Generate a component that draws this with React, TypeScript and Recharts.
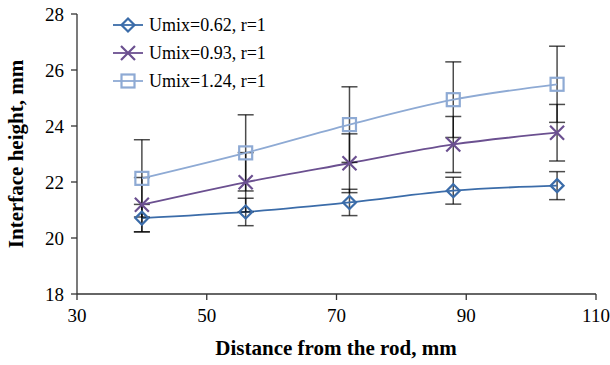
import React from 'react';
import { LineChart, Line, XAxis, YAxis, ErrorBar } from 'recharts';

const distance = [40, 56, 72, 88, 104];
const height062 = [20.71, 20.93, 21.27, 21.69, 21.87];
const height093 = [21.19, 21.99, 22.67, 23.34, 23.76];
const height124 = [22.13, 23.04, 24.05, 24.94, 25.49];
const err062 = [0.49, 0.49, 0.47, 0.48, 0.5];
const err093 = [0.97, 1.06, 1.05, 1.0, 1.01];
const err124 = [1.38, 1.36, 1.35, 1.35, 1.36];
const xTicks = [30, 50, 70, 90, 110];
const yTicks = [18, 20, 22, 24, 26, 28];
const seriesNames = ['Umix=0.62, r=1', 'Umix=0.93, r=1', 'Umix=1.24, r=1'];

const data = distance.map((d, i) => ({
  d,
  h1: height062[i],
  h2: height093[i],
  h3: height124[i],
  e1: err062[i],
  e2: err093[i],
  e3: err124[i],
}));

const FONT = '"Liberation Serif", "Times New Roman", serif';
const C1 = '#3b6ca9';
const C2 = '#6b5090';
const C3 = '#8eaad4';

const Diamond = ({ cx, cy, color }: any) => (
  <path
    d={`M${cx},${cy - 6.5} L${cx + 6.5},${cy} L${cx},${cy + 6.5} L${cx - 6.5},${cy} Z`}
    fill="none"
    stroke={color}
    strokeWidth={2.2}
  />
);

const Cross = ({ cx, cy, color }: any) => (
  <path
    d={`M${cx - 7},${cy - 7} L${cx + 7},${cy + 7} M${cx - 7},${cy + 7} L${cx + 7},${cy - 7}`}
    fill="none"
    stroke={color}
    strokeWidth={2.2}
  />
);

const Square = ({ cx, cy, color }: any) => (
  <rect x={cx - 6.5} y={cy - 6.5} width={13} height={13} fill="none" stroke={color} strokeWidth={2.2} />
);

const markers = [Diamond, Cross, Square];
const colors = [C1, C2, C3];

function LegendBox() {
  return (
    <div style={{ position: 'absolute', left: 111, top: 11, fontFamily: FONT, fontSize: 18, color: '#000' }}>
      {seriesNames.map((name, i) => {
        const M = markers[i];
        return (
          <div key={name} style={{ display: 'flex', alignItems: 'center', height: 28 }}>
            <svg width={34} height={20}>
              <line x1={2} y1={10} x2={32} y2={10} stroke={colors[i]} strokeWidth={1.8} />
              <M cx={17} cy={10} color={colors[i]} />
            </svg>
            <span style={{ marginLeft: 4, lineHeight: '28px' }}>{name}</span>
          </div>
        );
      })}
    </div>
  );
}

export default function App() {
  const tickStyle = { fontFamily: FONT, fontSize: 19, fill: '#000' };
  return (
    <div style={{ position: 'absolute', left: 0, top: 0, width: 610, height: 365, background: '#fff' }}>
      <LineChart width={610} height={365} data={data} margin={{ top: 14, right: 14, left: 0, bottom: 0 }}>
        <XAxis
          dataKey="d"
          type="number"
          domain={[30, 110]}
          ticks={xTicks}
          tick={tickStyle}
          tickSize={6}
          tickMargin={9}
          height={71}
          stroke="#333"
          strokeWidth={1.3}
          label={() => (
            <text x={336} y={355} textAnchor="middle" fontFamily={FONT} fontSize={21} fontWeight="bold" fill="#000">
              Distance from the rod, mm
            </text>
          )}
        />
        <YAxis
          type="number"
          domain={[18, 28]}
          ticks={yTicks}
          tick={tickStyle}
          tickSize={6}
          tickMargin={7}
          width={77}
          stroke="#333"
          strokeWidth={1.3}
          label={() => (
            <text
              x={16}
              y={154}
              transform="rotate(-90 16 154)"
              textAnchor="middle"
              dominantBaseline="central"
              fontFamily={FONT}
              fontSize={21}
              fontWeight="bold"
              fill="#000"
            >
              Interface height, mm
            </text>
          )}
        />
        {(['h1', 'h2', 'h3'] as const).map((key, i) => {
          const M = markers[i];
          return (
            <Line
              key={key}
              dataKey={key}
              name={seriesNames[i]}
              type="monotone"
              stroke={colors[i]}
              strokeWidth={1.8}
              isAnimationActive={false}
              dot={(p: any) => <M key={`${key}-${p.index}`} cx={p.cx} cy={p.cy} color={colors[i]} />}
              activeDot={false}
            >
              <ErrorBar
                dataKey={`e${i + 1}`}
                direction="y"
                width={8}
                stroke="#000"
                strokeOpacity={0.7}
                strokeWidth={1.5}
              />
            </Line>
          );
        })}
      </LineChart>
      <LegendBox />
    </div>
  );
}
